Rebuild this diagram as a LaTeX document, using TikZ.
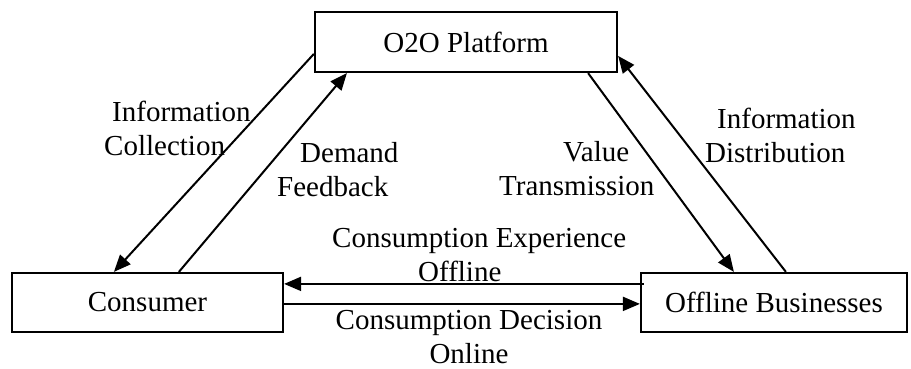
\documentclass[tikz,border=0pt]{standalone}
\usepackage{fontspec}
\setmainfont{Liberation Serif}
\usetikzlibrary{arrows.meta}
\begin{document}
\begin{tikzpicture}[x=1pt,y=-1pt,
  box/.style={draw, line width=2.2pt, inner sep=0pt, font=\fontsize{29}{34}\selectfont},
  lbl/.style={inner sep=0pt, font=\fontsize{29}{34}\selectfont},
  arr/.style={line width=2pt, -{Triangle[length=17pt,width=14pt]}}]
\useasboundingbox (0,0) rectangle (911,369);
\node[box, minimum width=302pt, minimum height=60pt] (o2o) at (466,42) {O2O Platform};
\node[box, minimum width=271pt, minimum height=59pt] (cons) at (147.5,302.5) {Consumer};
\node[box, minimum width=266pt, minimum height=59pt] (off) at (774,302.5) {Offline Businesses};
\draw[arr] ([yshift=-43pt]o2o.north west) -- ([xshift=103pt]cons.north west);
\draw[arr] ([xshift=168pt]cons.north west) -- ([xshift=33pt]o2o.south west);
\draw[arr] ([xshift=-30pt]o2o.south east) -- ([xshift=94pt]off.north west);
\draw[arr] ([xshift=146pt]off.north west) -- ([yshift=-45pt]o2o.north east);
\draw[arr] ([xshift=4pt,yshift=-12pt]off.north west) -- ([yshift=-12pt]cons.north east);
\draw[arr] ([yshift=-32pt]cons.north east) -- ([yshift=-32pt]off.north west);
\node[lbl, anchor=west, align=left] (lic) at (104,128.5) {\hspace*{8pt}Information\\Collection};
\node[lbl, anchor=west, align=left] (ldf) at (277,170) {\hspace*{23pt}Demand\\Feedback};
\node[lbl, anchor=west, align=left] (lvt) at (499,168.5) {\hspace*{64pt}Value\\Transmission};
\node[lbl, anchor=west, align=left] (lid) at (705,135) {\hspace*{12pt}Information\\Distribution};
\node[lbl, anchor=west, align=left] (lce) at (332,255) {Consumption Experience\\\hspace*{86pt}Offline};
\node[lbl, align=center] (lcd) at (469,337.5) {Consumption Decision\\Online};
\end{tikzpicture}
\end{document}
